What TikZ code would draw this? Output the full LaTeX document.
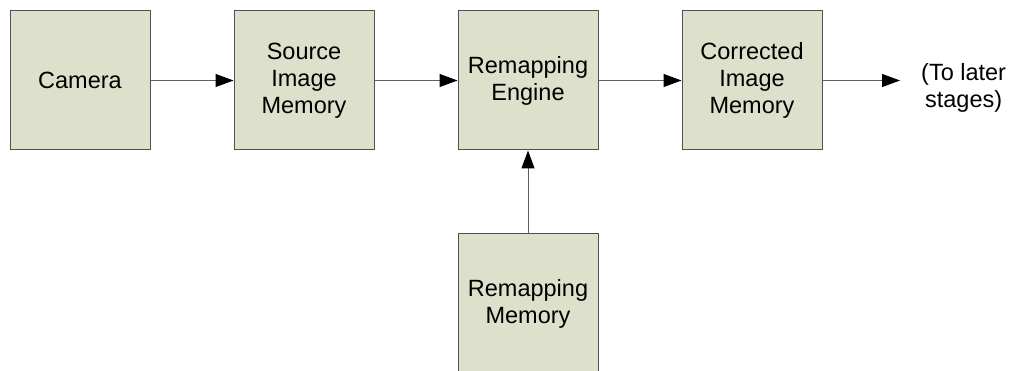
\documentclass[tikz,border=0pt]{standalone}
\usepackage{fontspec}
\setmainfont{Liberation Sans}
\usepackage{tikz}
\usetikzlibrary{positioning}
\usetikzlibrary{arrows.meta}
\definecolor{BlockFill}{HTML}{DDE0CA}
\definecolor{BlockLine}{HTML}{505050}
\definecolor{WireLine}{HTML}{606060}
\newcommand{\blocksizex}{140pt}
\newcommand{\blocksizey}{139pt}
\newcommand{\blockgap}{83pt}

\tikzset{
  block/.style={draw=BlockLine, fill=BlockFill, line width=1pt,
    minimum width=\blocksizex, minimum height=\blocksizey,
    inner sep=0pt, align=center, font=\fontsize{23.5}{27}\selectfont},
  wire/.style={draw=WireLine, line width=1pt,
    -{Triangle[length=18pt,width=13pt,color=black]}},
}

\begin{document}
\begin{tikzpicture}[x=1pt,y=-1pt]
    \useasboundingbox (0,0) rectangle (1019,371);
    % main chain
    \node[block] (camera) at (80,80.5) {Camera};
    \node[block, right=\blockgap of camera] (srcmem) {Source\\Image\\Memory};
    \node[block, right=\blockgap of srcmem] (engine) {Remapping\\Engine};
    \node[block, right=\blockgap of engine] (corrmem) {Corrected\\Image\\Memory};
    % lookup table below the engine
    \node[block, below=83pt of engine] (remapmem) {Remapping\\Memory};

    % output
    \coordinate (outend) at (900,80.5);
    \node[anchor=west, align=center, inner sep=0pt,
      font=\fontsize{23.5}{27}\selectfont] (later) at (921,88) {(To later\\stages)};

    \draw[wire] (camera) -- (srcmem);
    \draw[wire] (srcmem) -- (engine);
    \draw[wire] (engine) -- (corrmem);
    \draw[wire] (corrmem) -- (outend);
    \draw[wire] (remapmem) -- (engine);
\end{tikzpicture}
\end{document}
